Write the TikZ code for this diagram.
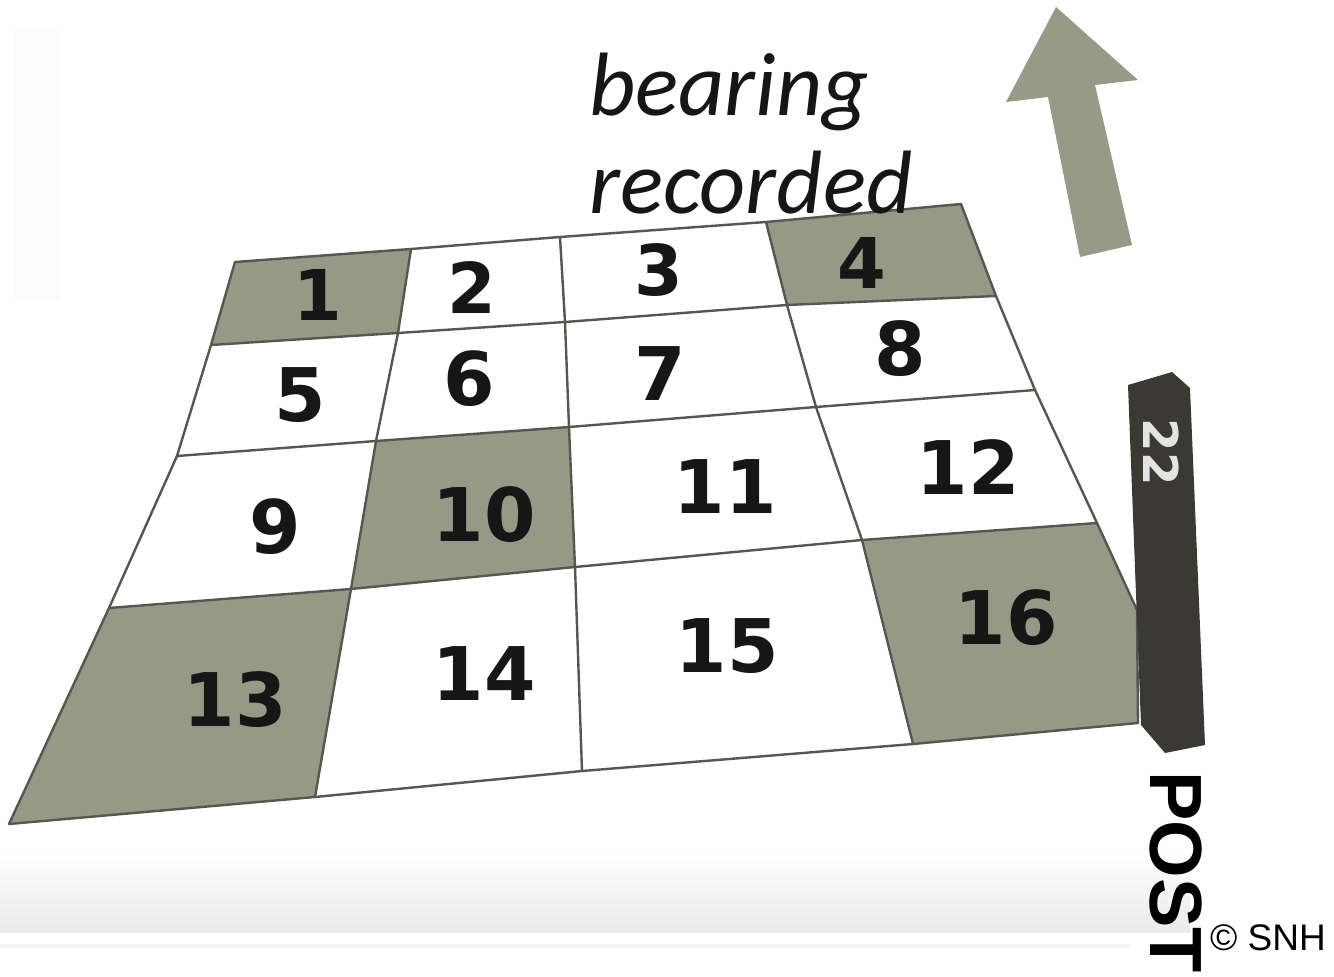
\documentclass[tikz,border=0pt]{standalone}
\usepackage{fontspec}
\setmainfont{DejaVu Sans}
\newfontfamily\labelfont{Carlito}
\newfontfamily\numfont{DejaVu Sans}
\newfontfamily\postfont{Liberation Sans}
\definecolor{cellgray}{RGB}{151,153,135}
\definecolor{linegray}{RGB}{85,87,80}
\definecolor{postdark}{RGB}{58,58,50}
\definecolor{numblack}{RGB}{22,22,22}
\definecolor{arrowgray}{RGB}{152,154,136}
\tikzset{
  gridline/.style={draw=linegray, line width=2.4pt, line join=round, line cap=round},
  shadedcell/.style={fill=cellgray},
  num/.style={font=\numfont\bfseries\fontsize{74}{74}\selectfont, text=numblack, inner sep=0pt},
  numtop/.style={num, font=\numfont\bfseries\fontsize{70}{70}\selectfont},
  caption/.style={font=\labelfont\itshape\fontsize{90}{90}\selectfont, text=numblack, inner sep=0pt, anchor=base west},
}
\begin{document}
\begin{tikzpicture}[x=1pt,y=-1pt]
\useasboundingbox (0,0) rectangle (1334,977);
\fill[white] (0,0) rectangle (1334,977);
% faint background bands
\fill[gray!2] (14,30) rectangle (60,300);
\fill[top color=white, bottom color=gray!16] (0,850) rectangle (1190,932);
\fill[gray!8] (0,944) rectangle (1130,948);
% grid points
\coordinate (p00) at (235,262); \coordinate (p01) at (411,249); \coordinate (p02) at (560,237); \coordinate (p03) at (766,222); \coordinate (p04) at (961,204);
\coordinate (p10) at (211,345); \coordinate (p11) at (398,333); \coordinate (p12) at (565,322); \coordinate (p13) at (787,305); \coordinate (p14) at (996,296);
\coordinate (p20) at (177,456); \coordinate (p21) at (376,441); \coordinate (p22) at (569,427); \coordinate (p23) at (816,407); \coordinate (p24) at (1035,390);
\coordinate (p30) at (109,608); \coordinate (p31) at (351,589); \coordinate (p32) at (575,567); \coordinate (p33) at (862,540); \coordinate (p34) at (1097,523);
\coordinate (p40) at (9,824); \coordinate (p41) at (315,797); \coordinate (p42) at (582,771); \coordinate (p43) at (913,744); \coordinate (p44) at (1138,723);
\coordinate (rk) at (1137,610);
% shadow
\fill[gray!35, opacity=0.5, shift={(0,8)}] (p00)--(p04)--(p14)--(p24)--(p34)--(rk)--(p44)--(p40)--(p30)--(p20)--(p10)--cycle;
% base
\fill[white] (p00)--(p04)--(p14)--(p24)--(p34)--(rk)--(p44)--(p40)--(p30)--(p20)--(p10)--cycle;
% shaded cells
\fill[shadedcell] (p00)--(p01)--(p11)--(p10)--cycle;
\fill[shadedcell] (p03)--(p04)--(p14)--(p13)--cycle;
\fill[shadedcell] (p21)--(p22)--(p32)--(p31)--cycle;
\fill[shadedcell] (p30)--(p31)--(p41)--(p40)--cycle;
\fill[shadedcell] (p33)--(p34)--(rk)--(p44)--(p43)--cycle;
% grid lines
\draw[gridline] (p00)--(p01)--(p02)--(p03)--(p04);
\draw[gridline] (p10)--(p11)--(p12)--(p13)--(p14);
\draw[gridline] (p20)--(p21)--(p22)--(p23)--(p24);
\draw[gridline] (p30)--(p31)--(p32)--(p33)--(p34);
\draw[gridline] (p40)--(p41)--(p42)--(p43)--(p44);
\draw[gridline] (p00)--(p10)--(p20)--(p30)--(p40);
\draw[gridline] (p01)--(p11)--(p21)--(p31)--(p41);
\draw[gridline] (p02)--(p12)--(p22)--(p32)--(p42);
\draw[gridline] (p03)--(p13)--(p23)--(p33)--(p43);
\draw[gridline] (p04)--(p14)--(p24)--(p34)--(rk)--(p44);
% numbers
\node[numtop] (n1) at (318,295) {1};
\node[numtop] (n2) at (472,288) {2};
\node[numtop] (n3) at (659,270) {3};
\node[numtop] (n4) at (862,263) {4};
\node[num] (n5) at (300,395) {5};
\node[num] (n6) at (469,379) {6};
\node[num] (n7) at (660,374) {7};
\node[num] (n8) at (900,349) {8};
\node[num] (n9) at (275,527) {9};
\node[num] (n10) at (484,515) {10};
\node[num] (n11) at (725,487) {11};
\node[num] (n12) at (968,467) {12};
\node[num] (n13) at (235,700) {13};
\node[num] (n14) at (484,674) {14};
\node[num] (n15) at (727,646) {15};
\node[num] (n16) at (1006,618) {16};
% caption
\node[caption] (bearing) at (589,115) {bearing};
\node[caption] (recorded) at (589,213) {recorded};
% arrow
\fill[arrowgray] (1056,7) -- (1138,80) -- (1095,85) -- (1132,245) -- (1080,257) -- (1048,97) -- (1006,102) -- cycle;
% post
\fill[postdark] (1128,385) -- (1172,372) -- (1190,388) -- (1205,745) -- (1165,753) -- (1141,725) -- cycle;
\node[rotate=-90, inner sep=0pt, font=\numfont\bfseries\fontsize{48}{48}\selectfont, text=gray!22] (post22) at (1161,452) {22};
\node[rotate=-90, inner sep=0pt, font=\postfont\bfseries\fontsize{74}{74}\selectfont, text=black] (postlabel) at (1176,872) {POST};
\node[inner sep=0pt, font=\postfont\fontsize{37}{37}\selectfont, text=black, anchor=west] (snh) at (1210,938) {© SNH};
\end{tikzpicture}
\end{document}
